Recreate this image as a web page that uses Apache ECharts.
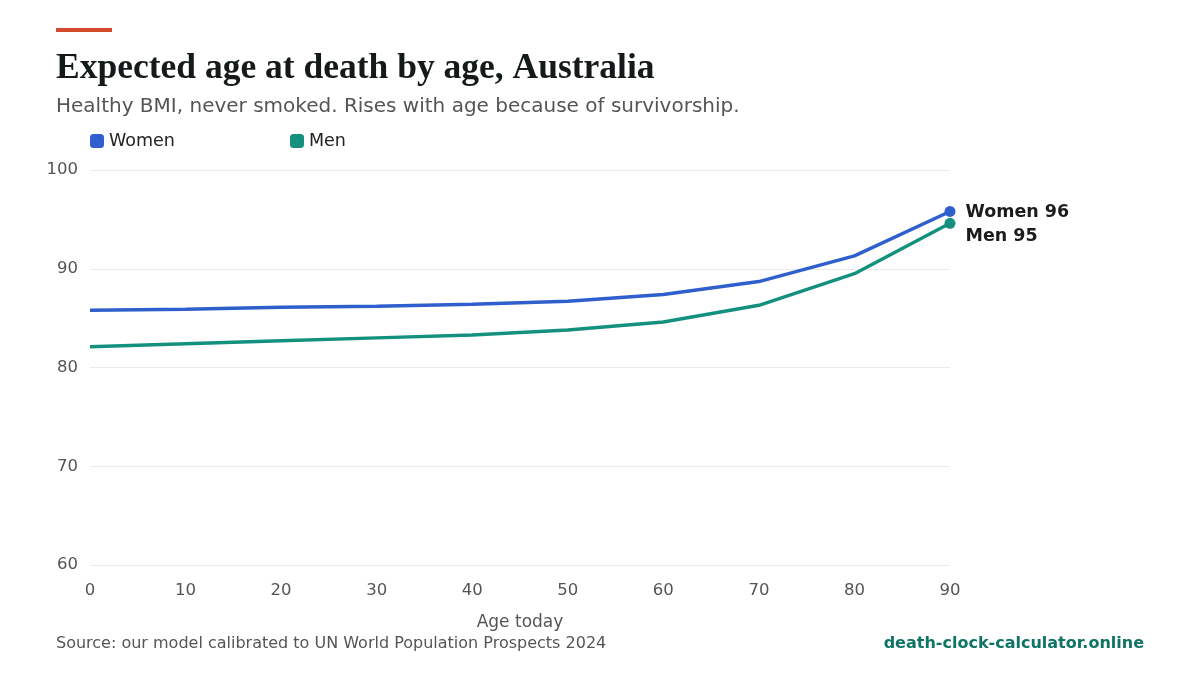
<!DOCTYPE html>
<html><head><meta charset="utf-8">
<script src="https://cdn.jsdelivr.net/npm/echarts@6/dist/echarts.min.js"></script>
<style>html,body{margin:0;padding:0;background:#fff}#c{width:1200px;height:675px}</style>
</head><body><div id="c"></div>
<script>
const ages = [0, 10, 20, 30, 40, 50, 60, 70, 80, 90];
const women = [85.8, 85.9, 86.1, 86.2, 86.4, 86.7, 87.4, 88.7, 91.3, 95.8];
const men = [82.1, 82.4, 82.7, 83.0, 83.3, 83.8, 84.6, 86.3, 89.5, 94.6];
const yTicks = [60, 70, 80, 90, 100];

const WOMEN_COLOR = '#2f5fcd';
const MEN_COLOR = '#14907f';
const FONT = 'DejaVu Sans';

function pairs(vals){ return ages.map((a,i)=>[a, vals[i]]); }
function endLabelSeries(name, vals, color, offsetY){
  return {
    name, type:'line', data: pairs(vals), color,
    lineStyle:{width:3.5, color}, symbol:'none', smooth:false,
    markPoint:{
      symbol:'circle', symbolSize:11, itemStyle:{color},
      data:[{coord:[ages[ages.length-1], vals[vals.length-1]]}],
      label:{show:true, position:'right', distance:10, offset:[0,offsetY+1],
        formatter: name + ' ' + Math.round(vals[vals.length-1]),
        fontFamily:FONT, fontWeight:'bold', fontSize:17.5, color:'#1c1c1c'}
    }
  };
}
const legendText = {fontFamily:FONT, fontSize:17.5, color:'#222'};

const chart = echarts.init(document.getElementById('c'), null, {renderer:'canvas'});
chart.setOption({
  animation:false,
  backgroundColor:'#fff',
  graphic:[
    {type:'rect', left:56, top:28, shape:{width:56, height:4}, style:{fill:'#d2492c'}},
    {type:'text', left:56, top:636, style:{text:'Source: our model calibrated to UN World Population Prospects 2024', font:'16px "DejaVu Sans"', fill:'#555'}},
    {type:'text', right:56, top:636, style:{text:'death-clock-calculator.online', font:'bold 16px "DejaVu Sans"', fill:'#0f7466'}}
  ],
  title:{
    text:'Expected age at death by age, Australia',
    subtext:'Healthy BMI, never smoked. Rises with age because of survivorship.',
    left:51, top:46, itemGap:10,
    textStyle:{fontFamily:'Liberation Serif', fontWeight:'bold', fontSize:35.5, color:'#141a1a'},
    subtextStyle:{fontFamily:FONT, fontSize:20, color:'#555'}
  },
  legend:[
    {left:85, top:127, itemWidth:14, itemHeight:14, icon:'roundRect', data:['Women'], textStyle:legendText},
    {left:285, top:127, itemWidth:14, itemHeight:14, icon:'roundRect', data:['Men'], textStyle:legendText}
  ],
  grid:{left:90, right:250, top:170, bottom:110},
  xAxis:{
    type:'value', min:0, max:90, interval:10,
    name:'Age today', nameLocation:'middle', nameGap:49,
    nameTextStyle:{fontFamily:FONT, fontSize:17, color:'#555'},
    axisLine:{show:false}, axisTick:{show:false}, splitLine:{show:false},
    axisLabel:{fontFamily:FONT, fontSize:16.5, color:'#555', margin:17}
  },
  yAxis:{
    type:'value', min:yTicks[0], max:yTicks[yTicks.length-1], interval:10,
    axisLine:{show:false}, axisTick:{show:false},
    splitLine:{lineStyle:{color:'#ebebeb', width:1}},
    axisLabel:{fontFamily:FONT, fontSize:16.5, color:'#555', margin:12}
  },
  series:[
    endLabelSeries('Women', women, WOMEN_COLOR, 0),
    endLabelSeries('Men', men, MEN_COLOR, 12)
  ]
});
</script></body></html>
